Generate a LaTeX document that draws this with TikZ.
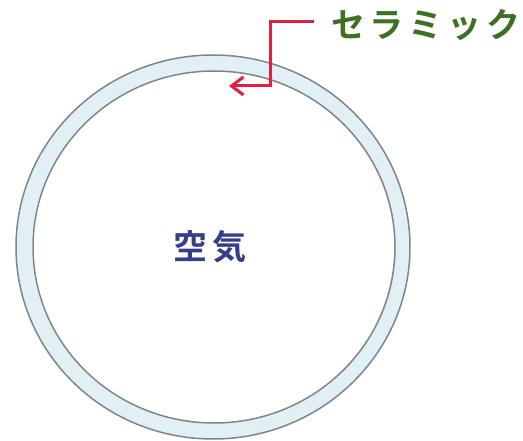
\documentclass[tikz,border=0pt]{standalone}
\usepackage{fontspec}
\newfontfamily\jpfont{Noto Sans CJK JP Bold}
\usetikzlibrary{arrows.meta}
\definecolor{ringfill}{RGB}{226,240,246}
\definecolor{ringedge}{RGB}{125,135,135}
\definecolor{labelgreen}{RGB}{62,112,36}
\definecolor{airblue}{RGB}{52,62,140}
\definecolor{arrowred}{RGB}{228,30,62}
\begin{document}
\begin{tikzpicture}[x=1pt,y=-1pt,
  ringline/.style={draw=ringedge,line width=1.5pt},
  lbl/.style={inner sep=0pt,font=\jpfont\fontsize{34}{34}\selectfont\addfontfeature{LetterSpace=14}},
  ptr/.style={draw=arrowred,line width=3pt,-{Straight Barb[length=12pt,width=18pt,line width=3pt]}}]
\useasboundingbox (0,0) rectangle (523,441);
% ring
\path[fill=ringfill,even odd rule] (213,247) ellipse [x radius=197,y radius=192]
  (213,247) ellipse [x radius=181,y radius=176];
\draw[ringline] (213,247) ellipse [x radius=197,y radius=192];
\draw[ringline] (214,247) ellipse [x radius=181,y radius=176];
% labels
\node[lbl,text=labelgreen,anchor=west] (ceramic) at (331,25) {セラミック};
\node[lbl,text=airblue] (air) at (210,247) {空気};
\coordinate (bend1) at (270,22);
\coordinate (tip) at (229,86);
\coordinate (start) at (314,22);
\draw[ptr] (start) -- (bend1) |- (tip);
\end{tikzpicture}
\end{document}
